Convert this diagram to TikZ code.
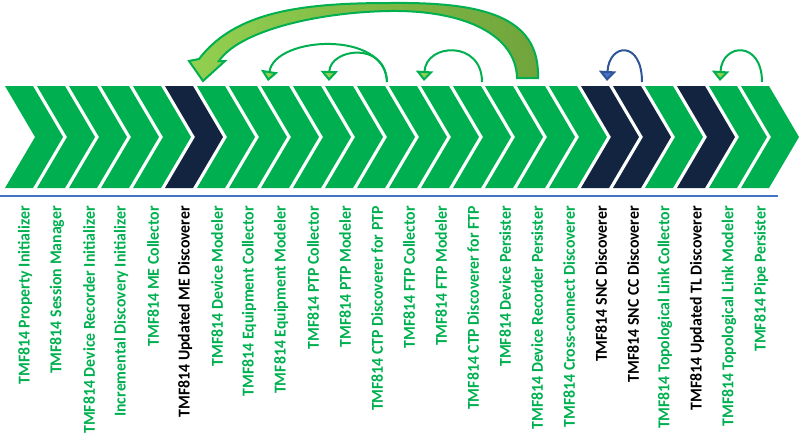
\documentclass[tikz,border=0pt]{standalone}
\usepackage{fontspec}
\setmainfont{Carlito}
\usetikzlibrary{arrows.meta}
\definecolor{cgreen}{HTML}{00B050}
\definecolor{cnavy}{HTML}{132440}
\definecolor{lgreen}{HTML}{92D050}
\definecolor{olive}{HTML}{70A43C}
\definecolor{lblue}{HTML}{4472C4}
\definecolor{dblue}{HTML}{2F5597}
\begin{document}
\begin{tikzpicture}[x=1pt,y=-1pt,
  chevg/.style={fill=cgreen},
  chevd/.style={fill=cnavy},
  labbase/.style={rotate=90,yscale=1.05,anchor=east,inner sep=0pt,font=\fontsize{15.8}{18}\selectfont\bfseries},
  labg/.style={labbase,text=cgreen},
  labd/.style={labbase,text=black},
  bigarrow/.style={draw=cgreen,line width=2pt,left color=lgreen,right color=olive,line join=miter},
  thinarr/.style={draw=cgreen,line width=2pt,-{Triangle[width=17pt,length=10pt,fill=lgreen]}},
  bluearr/.style={draw=dblue,line width=2pt,-{Triangle[width=17pt,length=10pt,fill=lblue]}},
  sepline/.style={draw=lblue,line width=1.2pt}]
\useasboundingbox (0,0) rectangle (804,440);
\foreach[count=\n from 0] \t/\k in {
  TMF814 Property Initializer/g,
  TMF814 Session Manager/g,
  TMF814 Device Recorder Initializer/g,
  Incremental Discovery Initializer/g,
  TMF814 ME Collector/g,
  TMF814 Updated ME Discoverer/d,
  TMF814 Device Modeler/g,
  TMF814 Equipment Collector/g,
  TMF814 Equipment Modeler/g,
  TMF814 PTP Collector/g,
  TMF814 PTP Modeler/g,
  TMF814 CTP Discoverer for PTP/g,
  TMF814 FTP Collector/g,
  TMF814 FTP Modeler/g,
  TMF814 CTP Discoverer for FTP/g,
  TMF814 Device Persister/g,
  TMF814 Device Recorder Persister/g,
  TMF814 Cross-connect Discoverer/g,
  TMF814 SNC Discoverer/d,
  TMF814 SNC CC Discoverer/d,
  TMF814 Topological Link Collector/g,
  TMF814 Updated TL Discoverer/d,
  TMF814 Topological Link Modeler/g,
  TMF814 Pipe Persister/g} {
  \path[chev\k] (5+32*\n,86) -- ++(28,0) -- ++(30,51) -- ++(-30,51) -- ++(-28,0) -- ++(30,-51) -- cycle;
  \node[lab\k] (L\n) at (25+32*\n,206) {\t};
}
\coordinate (bl1) at (0,196);
\coordinate (bl2) at (778,196);
\draw[sepline] (bl1) -- (bl2);
% big curved arrow
\filldraw[bigarrow] (538,78) .. controls (540,15) and (480,2) .. (390,3)
  .. controls (300,3) and (235,12) .. (199,59) -- (189,61) -- (203,81) -- (225,61) -- (219,61)
  .. controls (240,30) and (320,12) .. (390,11) .. controls (465,10) and (516,35) .. (517,78) -- cycle;
% thin arrows
\coordinate (s1) at (387,82);
\coordinate (h1) at (268,81);
\coordinate (h2) at (329,81);
\coordinate (s3) at (482,82);
\coordinate (h3) at (424,81);
\coordinate (s4) at (642,82);
\coordinate (h4) at (607,81);
\coordinate (s5) at (762,82);
\coordinate (h5) at (720,81);
\draw[thinarr] (s1) .. controls +(-1,-52) and +(7,-45) .. (h1);
\draw[thinarr] (s1) .. controls +(-2,-42) and +(1,-32) .. (h2);
\draw[thinarr] (s3) .. controls +(0,-42) and +(2,-38) .. (h3);
\draw[bluearr] (s4) .. controls +(0,-42) and +(2,-38) .. (h4);
\draw[thinarr] (s5) .. controls +(0,-42) and +(2,-38) .. (h5);
\end{tikzpicture}
\end{document}
